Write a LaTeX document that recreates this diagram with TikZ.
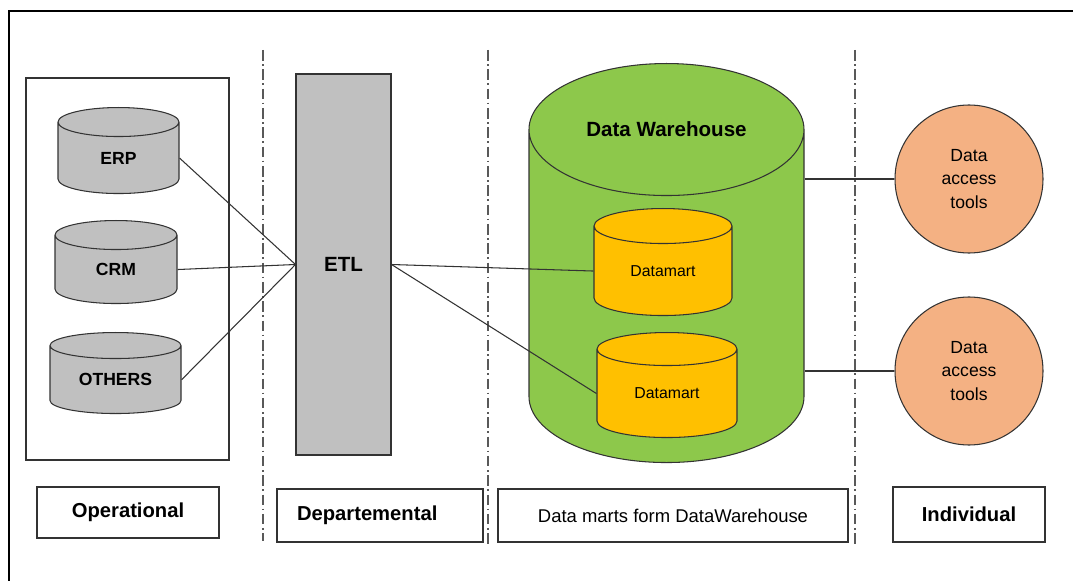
\documentclass[tikz,border=0pt]{standalone}
\usepackage{fontspec}
\setmainfont{Liberation Sans}
\usetikzlibrary{positioning, calc, shapes.geometric}
\definecolor{Ink}{HTML}{333333}
\definecolor{Stone}{HTML}{C0C0C0}
\definecolor{Leaf}{HTML}{8DC84B}
\definecolor{Amber}{HTML}{FFC000}
\definecolor{Salmon}{HTML}{F4B183}
\tikzset{
    sourcedb/.style={cylinder, shape border rotate=90, aspect=0.29, draw=Ink, fill=Stone, line width=0.6pt, inner sep=0pt, text width=20mm, align=center, anchor=north, font=\bfseries\fontsize{10}{12}\selectfont},
    etlbox/.style={rectangle, draw=Ink, fill=Stone, line width=0.6pt, minimum width=19mm, minimum height=76.2mm, font=\bfseries\fontsize{11.7}{14}\selectfont},
    warehouse/.style={cylinder, shape border rotate=90, aspect=0.66, draw=Ink, fill=Leaf, line width=0.6pt, inner sep=0pt, text width=40mm, minimum width=55mm, minimum height=79.8mm, anchor=north},
    martdb/.style={cylinder, shape border rotate=90, aspect=0.35, draw=Ink, fill=Amber, line width=0.6pt, inner sep=0pt, text width=20mm, align=center, anchor=north, font=\fontsize{9}{11}\selectfont},
    toolcircle/.style={circle, draw=Ink, fill=Salmon, line width=0.6pt, minimum size=29.6mm, align=center, font=\fontsize{10}{13.4}\selectfont},
    tierbox/.style={rectangle, draw=Ink, line width=0.8pt, minimum height=10.6mm, font=\bfseries\fontsize{11.5}{14}\selectfont},
    tierline/.style={gray!70!black, line width=0.7pt, dash pattern=on 6pt off 2pt on 1pt off 2pt},
    link/.style={Ink, line width=0.6pt},
}

\begin{document}
\begin{tikzpicture}[x=0.2mm, y=-0.2mm]
    \useasboundingbox (0,0) rectangle (1073,581);

    % Cornice
    \draw[line width=1.1pt] (1073,11) -- (9,11) -- (9,581);

    % Separatori
    \draw[tierline] (263,50) -- (263,541);
    \draw[tierline] (488,50) -- (488,545);
    \draw[tierline] (855,50) -- (855,545);

    % Sorgenti operative
    \draw[Ink, line width=0.6pt] (26,78) rectangle (229,460);
    \node[sourcedb, minimum width=24.2mm, minimum height=17.2mm] (erp) at (118.5,107) {ERP};
    \node[sourcedb, minimum width=24.4mm, minimum height=16.6mm] (crm) at (116,220) {CRM};
    \node[sourcedb, aspect=0.26, minimum width=26.2mm, minimum height=16.2mm] (others) at (115.5,332) {OTHERS};

    % ETL
    \node[etlbox] (etl) at (343.5,264.5) {ETL};

    % Data warehouse con i data mart
    \node[warehouse] (dw) at (666.5,63) {};
    \node[font=\bfseries\fontsize{11.7}{14}\selectfont] (dwtitle) at ($(dw.north)+(0,66)$) {Data Warehouse};
    \node[martdb, minimum width=27.6mm, minimum height=21.4mm] (mart1) at (663,208) {Datamart};
    \node[martdb, aspect=0.33, minimum width=28mm, minimum height=21mm] (mart2) at (667,332) {Datamart};

    % Strumenti di accesso
    \node[toolcircle] (tools1) at (969,179) {Data\\access\\tools};
    \node[toolcircle] (tools2) at (969,371) {Data\\access\\tools};

    % Collegamenti
    \draw[link] (erp.east) -- (etl.west);
    \draw[link] (crm.east) -- (etl.west);
    \draw[link] (others.east) -- (etl.west);
    \draw[link] (etl.east) -- (mart1.west);
    \draw[link] (etl.east) -- (mart2.west);
    \draw[link] (tools1.west -| dw.east) -- (tools1.west);
    \draw[link] (tools2.west -| dw.east) -- (tools2.west);

    % Livelli
    \node[tierbox, minimum width=36.4mm, minimum height=10.2mm] (operational) at (128,512.5) {Operational};
    \node[tierbox, text width=33.2mm, inner xsep=4mm, align=left] (departmental) at (380,515.5) {Departemental};
    \node[tierbox, minimum width=70mm, font=\fontsize{10.5}{13}\selectfont] (martsform) at (673,515.5) {Data marts form DataWarehouse};
    \node[tierbox, minimum width=30.4mm, minimum height=11mm] (individual) at (969,514.5) {Individual};
\end{tikzpicture}
\end{document}
